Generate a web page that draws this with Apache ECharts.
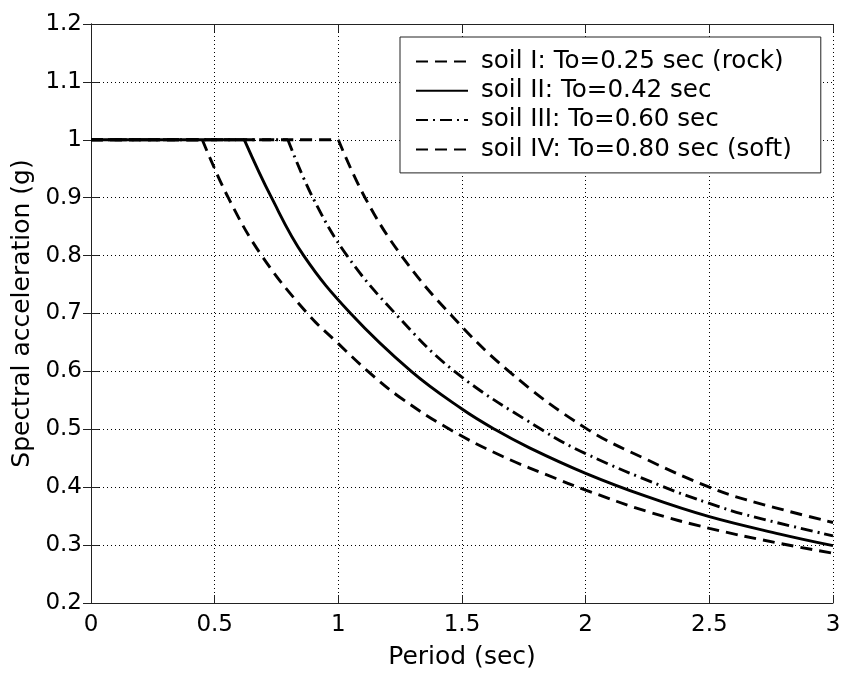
<!DOCTYPE html>
<html>
<head>
<meta charset="utf-8">
<script src="https://cdn.jsdelivr.net/npm/echarts@6/dist/echarts.min.js"></script>
<style>
  html, body { margin: 0; padding: 0; background: #fff; }
  #chart { width: 844px; height: 679px; }
</style>
</head>
<body>
<div id="chart"></div>
<script>
// ---- Data ----
const seriesNames = [
  'soil I: To=0.25 sec (rock)',
  'soil II: To=0.42 sec',
  'soil III: To=0.60 sec',
  'soil IV: To=0.80 sec (soft)'
];

// Each series: flat plateau at 1 g from T=0 to the corner period, then the decaying branch.
const periodsI = [0, 0.45, 0.555, 0.69, 0.875, 1.0, 1.12, 1.25, 1.45, 1.665, 1.88, 2.0, 2.25, 2.5, 2.785, 3.0];
const accelI   = [1, 1, 0.9, 0.8, 0.7, 0.648, 0.6, 0.555, 0.5, 0.453, 0.415, 0.395, 0.358, 0.329, 0.303, 0.286];

const periodsII = [0, 0.62, 0.73, 0.86, 1.05, 1.295, 1.5, 1.632, 1.773, 2.0, 2.246, 2.5, 2.785, 3.0];
const accelII   = [1, 1, 0.9, 0.8, 0.7, 0.6, 0.535, 0.5, 0.468, 0.424, 0.384, 0.349, 0.319, 0.299];

const periodsIII = [0, 0.796, 0.897, 1.035, 1.23, 1.47, 1.82, 2.0, 2.313, 2.5, 2.651, 3.0];
const accelIII   = [1, 1, 0.9, 0.8, 0.7, 0.6, 0.5, 0.458, 0.401, 0.372, 0.352, 0.316];

const periodsIV = [0, 1.0, 1.108, 1.255, 1.45, 1.69, 2.0, 2.246, 2.5, 2.651, 3.0];
const accelIV   = [1, 1, 0.9, 0.8, 0.7, 0.6, 0.502, 0.448, 0.4, 0.378, 0.339];

const xTicks = { min: 0, max: 3, interval: 0.5 };
const yTicks = { min: 0.2, max: 1.2, interval: 0.1 };

// ---- Build chart ----
// Pairs the arrays; a gap after the plateau end lets the decaying branch start with a sharp corner.
function toData(xs, ys) {
  const pts = xs.map((x, i) => [x, ys[i]]);
  return [pts[0], pts[1], [xs[1], '-']].concat(pts.slice(1));
}

const FONT = 'DejaVu Sans';
const dashed = [12, 7];
const dashDot = [12, 5, 2, 5];

function makeSeries(name, xs, ys, type, z) {
  return {
    name: name,
    type: 'line',
    data: toData(xs, ys),
    connectNulls: false,
    smooth: 0.4,
    symbol: 'none',
    showSymbol: false,
    z: z,
    lineStyle: { color: '#000', width: 2.9, type: type },
    itemStyle: { color: '#000', opacity: 0 },
    emphasis: { disabled: true },
    silent: true
  };
}

const axisLineStyle = { lineStyle: { color: '#222', width: 1 } };
const tickStyle = { show: true, inside: true, length: 8, lineStyle: { color: '#222', width: 1 } };
const gridStyle = { show: true, lineStyle: { color: '#000', width: 1, type: [1, 3] } };

const chart = echarts.init(document.getElementById('chart'), null, { renderer: 'canvas' });
chart.setOption({
  animation: false,
  backgroundColor: '#fff',
  grid: { left: 91, right: 11, top: 24, bottom: 76, containLabel: false },
  legend: {
    data: seriesNames,
    orient: 'vertical',
    left: 400,
    top: 37,
    padding: [12, 29, 11, 15],
    itemWidth: 52,
    itemHeight: 14,
    itemGap: 4.3,
    backgroundColor: '#fff',
    borderColor: '#222',
    borderWidth: 1,
    borderRadius: 0,
    selectedMode: false,
    itemStyle: { opacity: 0, borderWidth: 0 },
    lineStyle: { opacity: 1 },
    textStyle: { fontFamily: FONT, fontSize: 24.6, color: '#000', lineHeight: 24, padding: [0, 0, 0, 8] }
  },
  xAxis: [
    {
      type: 'value', min: xTicks.min, max: xTicks.max, interval: xTicks.interval,
      position: 'bottom',
      name: 'Period (sec)', nameLocation: 'middle', nameGap: 42,
      nameTextStyle: { fontFamily: FONT, fontSize: 25, color: '#000' },
      axisLine: axisLineStyle, axisTick: tickStyle, splitLine: gridStyle,
      axisLabel: { fontFamily: FONT, fontSize: 23, color: '#000', margin: 11 }
    },
    {
      type: 'value', min: xTicks.min, max: xTicks.max, interval: xTicks.interval,
      position: 'top',
      axisLine: axisLineStyle, axisTick: tickStyle, splitLine: { show: false },
      axisLabel: { show: false }
    }
  ],
  yAxis: [
    {
      type: 'value', min: yTicks.min, max: yTicks.max, interval: yTicks.interval,
      position: 'left',
      name: 'Spectral acceleration (g)', nameLocation: 'middle', nameGap: 45,
      nameTextStyle: { fontFamily: FONT, fontSize: 25, color: '#000' },
      axisLine: axisLineStyle, axisTick: tickStyle, splitLine: gridStyle,
      axisLabel: { fontFamily: FONT, fontSize: 23, color: '#000', margin: 9 }
    },
    {
      type: 'value', min: yTicks.min, max: yTicks.max, interval: yTicks.interval,
      position: 'right',
      axisLine: axisLineStyle, axisTick: tickStyle, splitLine: { show: false },
      axisLabel: { show: false }
    }
  ],
  series: [
    makeSeries(seriesNames[0], periodsI, accelI, dashed, 4),
    makeSeries(seriesNames[1], periodsII, accelII, 'solid', 5),
    makeSeries(seriesNames[2], periodsIII, accelIII, dashDot, 3),
    makeSeries(seriesNames[3], periodsIV, accelIV, dashed, 2)
  ]
});
</script>
</body>
</html>
